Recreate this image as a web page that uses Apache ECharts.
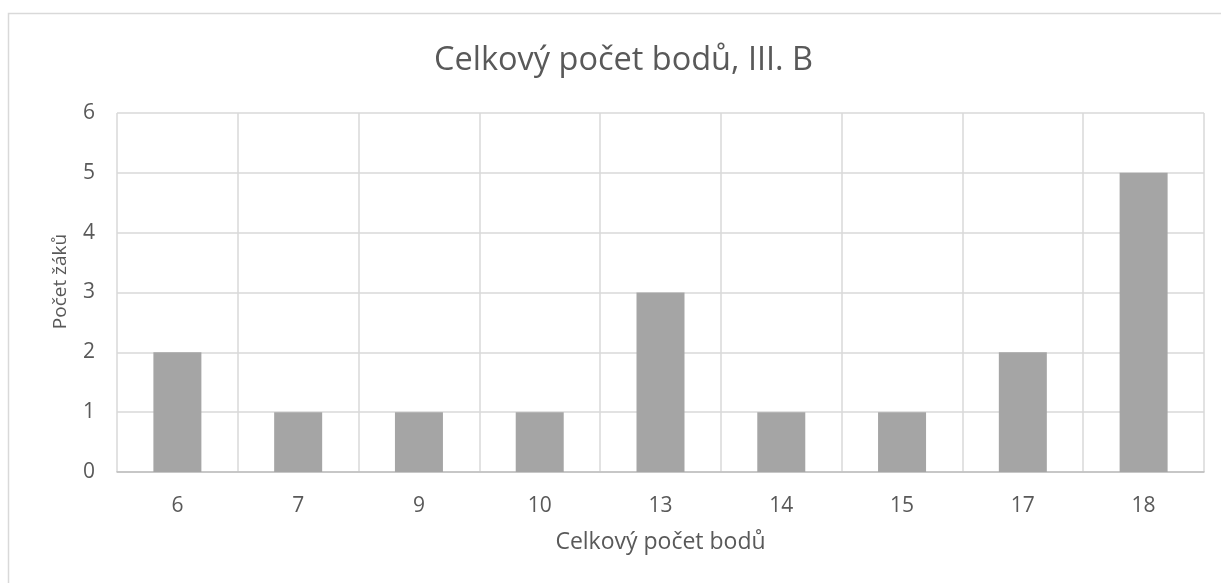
<!DOCTYPE html>
<html>
<head>
<meta charset="utf-8">
<script src="https://cdn.jsdelivr.net/npm/echarts@6/dist/echarts.min.js"></script>
<style>
  html, body { margin: 0; padding: 0; background: #fff; }
  #chart { width: 1221px; height: 583px; }
</style>
</head>
<body>
<div id="chart"></div>
<script>
// Total points scored (categories) and number of pupils for each
const points = ['6', '7', '9', '10', '13', '14', '15', '17', '18'];
const pupils = [2, 1, 1, 1, 3, 1, 1, 2, 5];
const yTicks = [0, 1, 2, 3, 4, 5, 6];

const titleText = 'Celkový počet bodů, III. B';
const xName = 'Celkový počet bodů';
const yName = 'Počet žáků';

const FONT = '"Open Sans", "Noto Sans", sans-serif';
const TEXT = '#595959';

const chart = echarts.init(document.getElementById('chart'), null, { renderer: 'canvas' });
chart.setOption({
  animation: false,
  backgroundColor: '#fff',
  graphic: [{
    type: 'rect',
    shape: { x: 8.5, y: 13.5, width: 1230, height: 600 },
    style: { fill: 'none', stroke: '#D9D9D9', lineWidth: 1.5 },
    silent: true
  }],
  title: {
    text: titleText,
    left: 429,
    top: 39,
    textStyle: { fontFamily: FONT, fontSize: 32.5, fontWeight: 'normal', color: TEXT }
  },
  grid: { left: 117, right: 17, top: 113, bottom: 111, containLabel: false },
  xAxis: {
    type: 'category',
    data: points,
    boundaryGap: true,
    name: xName,
    nameLocation: 'middle',
    nameGap: 59,
    nameTextStyle: { fontFamily: FONT, fontSize: 23, color: TEXT },
    axisLine: { show: true, lineStyle: { color: '#BFBFBF', width: 1.5 } },
    axisTick: { show: false },
    axisLabel: { fontFamily: FONT, fontSize: 21, color: TEXT, margin: 24 },
    splitLine: { show: true, interval: 0, lineStyle: { color: '#D9D9D9', width: 1.5 } }
  },
  yAxis: {
    type: 'value',
    min: yTicks[0],
    max: yTicks[yTicks.length - 1],
    interval: 1,
    name: yName,
    nameLocation: 'middle',
    nameGap: 47,
    nameTextStyle: { fontFamily: FONT, fontSize: 19, color: TEXT, padding: [0, 0, 0, 22] },
    axisLine: { show: false },
    axisTick: { show: false },
    axisLabel: { fontFamily: FONT, fontSize: 21, color: TEXT, margin: 22 },
    splitLine: { show: true, lineStyle: { color: '#D9D9D9', width: 1.5 } }
  },
  series: [{
    type: 'bar',
    data: pupils,
    barWidth: 48,
    itemStyle: { color: '#A5A5A5' },
    silent: true
  }]
});
</script>
</body>
</html>
